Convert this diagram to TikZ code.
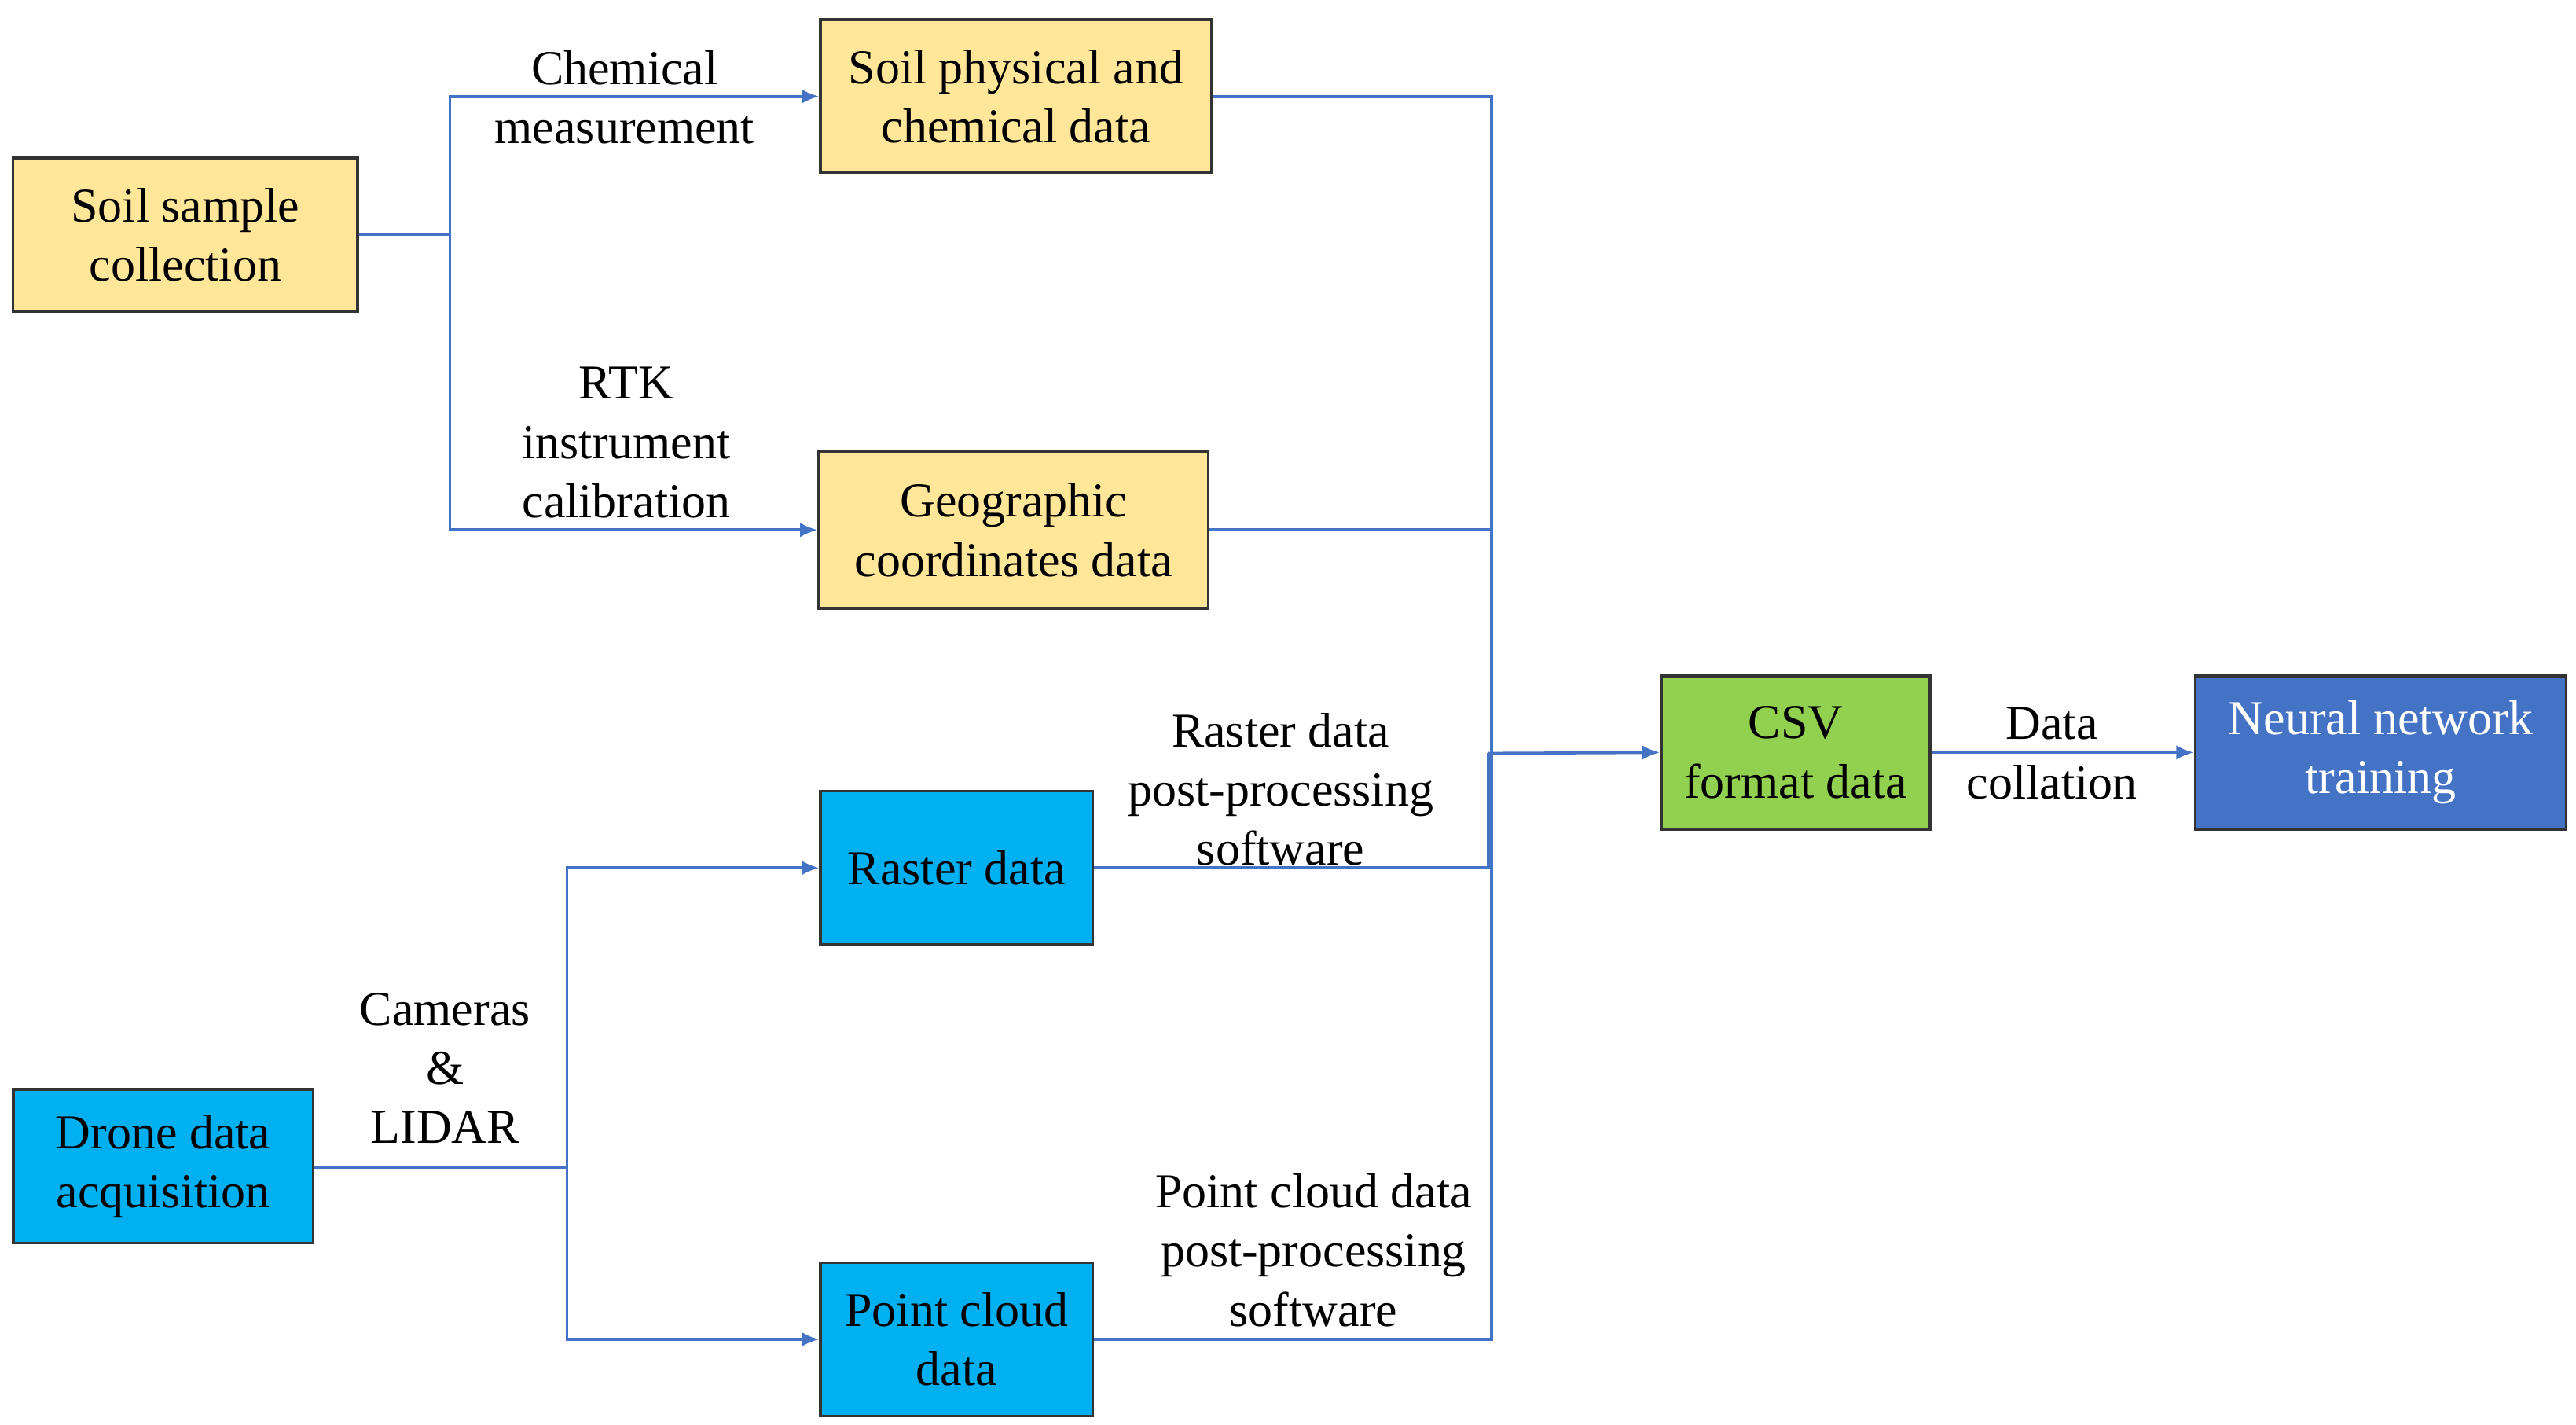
\documentclass[tikz,border=0pt]{standalone}
\usepackage{fontspec}
\setmainfont{Liberation Serif}
\usetikzlibrary{arrows.meta}
\definecolor{yel}{HTML}{FFE699}
\definecolor{cy}{HTML}{00B0F0}
\definecolor{gr}{HTML}{92D050}
\definecolor{bl}{HTML}{4472C4}
\begin{document}
\begin{tikzpicture}[x=0.01cm,y=-0.01cm,
  box/.style={draw=black!80,line width=0.5pt,inner sep=0pt,align=center,font=\fontsize{8.4}{10.2}\selectfont},
  lab/.style={align=center,font=\fontsize{8.4}{10.2}\selectfont,inner sep=0pt},
  ln/.style={draw=bl,line width=0.5pt},
  ar/.style={ln,-{Latex[length=3pt,width=2.5pt]}}]
\useasboundingbox (0,0) rectangle (1563,864);
\node[box,fill=yel,minimum width=2.09cm,minimum height=0.93cm] (ssc) at (112.5,142.5) {Soil sample\\collection};
\node[box,fill=yel,minimum width=2.37cm,minimum height=0.93cm] (spc) at (616.5,58.5) {Soil physical and\\chemical data};
\node[box,fill=yel,minimum width=2.36cm,minimum height=0.95cm] (geo) at (615,321.5) {Geographic\\coordinates data};
\node[box,fill=cy,minimum width=1.65cm,minimum height=0.93cm] (ras) at (580.5,526.5) {Raster data};
\node[box,fill=cy,minimum width=1.82cm,minimum height=0.93cm] (dro) at (99,707.5) {Drone data\\acquisition};
\node[box,fill=cy,minimum width=1.65cm,minimum height=0.93cm] (pcd) at (580.5,812.5) {Point cloud\\data};
\node[box,fill=gr,minimum width=1.63cm,minimum height=0.93cm] (csv) at (1089.5,456.5) {CSV\\format data};
\node[box,fill=bl,text=white,minimum width=2.25cm,minimum height=0.93cm] (nn) at (1444.5,456.5) {Neural network\\training};
\coordinate (j1) at (273,142);
\coordinate (j2) at (344,708);
\coordinate (bus) at (903,457);
\draw[ln] (ssc.east|-j1) -- (j1);
\draw[ar] (j1) |- (spc.west);
\draw[ar] (j1) |- (geo.west);
\draw[ln] (dro.east|-j2) -- (j2);
\draw[ar] (j2) |- (ras.west);
\draw[ar] (j2) |- (pcd.west);
\draw[ln] (spc.east) -| (905,457);
\draw[ln] (geo.east) -| (905,457);
\draw[ln] (ras.east) -| (bus);
\draw[ln] (pcd.east) -| (905,457);
\draw[ar] (bus) -- (csv.west);
\draw[ar] (csv.east) -- (nn.west);
\node[lab] (l1) at (379,59) {Chemical\\measurement};
\node[lab] (l2) at (380,268.5) {RTK\\instrument\\calibration};
\node[lab] (l3) at (777,479) {Raster data\\post-processing\\software};
\node[lab] (l4) at (797,758.5) {Point cloud data\\post-processing\\software};
\node[lab] (l5) at (270,648) {Cameras\\\&\\LIDAR};
\node[lab] (l6) at (1245,457) {Data\\collation};
\end{tikzpicture}
\end{document}
